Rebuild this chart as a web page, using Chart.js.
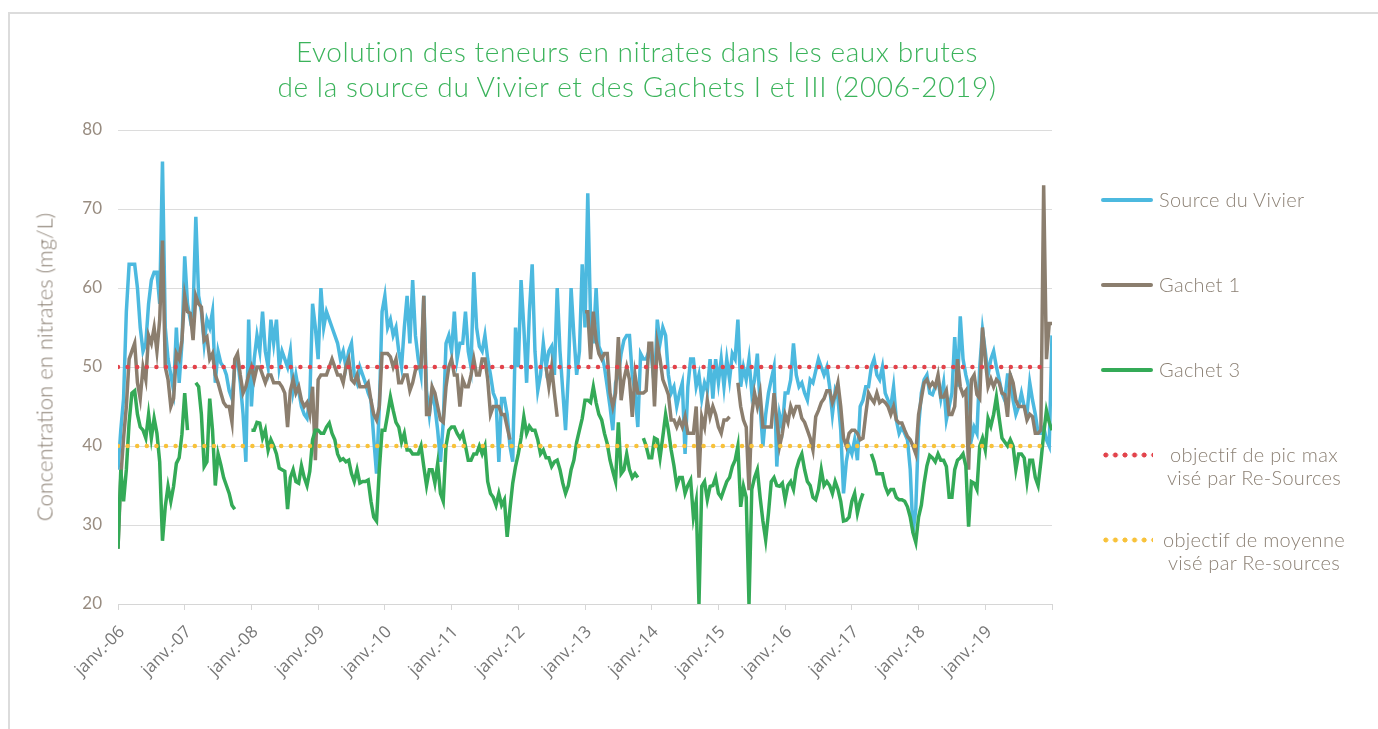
<!DOCTYPE html>
<html lang="fr">
<head>
<meta charset="utf-8">
<title>Evolution des teneurs en nitrates</title>
<script src="https://cdn.jsdelivr.net/npm/chart.js"></script>
<style>
    html, body {
        margin: 0;
        padding: 0;
        background: #fff;
        width: 1378px;
        height: 729px;
        overflow: hidden;
        font-family: Lato, "Open Sans", sans-serif;
    }
    .frame {
        position: absolute;
        left: 8px;
        top: 12px;
        width: 1400px;
        height: 740px;
        border-left: 2px solid #dcdcdc;
        border-top: 2px solid #dcdcdc;
    }
    #chart {
        position: absolute;
        left: 0;
        top: 0;
    }
    .chart-title {
        position: absolute;
        left: 0;
        top: 34px;
        width: 1274px;
        text-align: center;
        color: #3bb35b;
        font-size: 28px;
        font-weight: 300;
        letter-spacing: 0.6px;
        line-height: 35px;
    }
    .y-title {
        position: absolute;
        left: 44px;
        top: 367px;
        transform: translate(-50%, -50%) rotate(-90deg);
        white-space: nowrap;
        color: #8c8175;
        font-size: 22px;
        font-weight: 300;
    }
    .legend-item {
        position: absolute;
        left: 1101px;
        height: 0;
    }
    .legend-line {
        position: absolute;
        left: 0;
        top: -2px;
        width: 52px;
        height: 4px;
        border-radius: 2px;
    }
    .legend-dots {
        position: absolute;
        left: 0;
        top: -3px;
        width: 52px;
        height: 6px;
        background-size: 9.6px 6px;
        background-repeat: repeat-x;
    }
    .legend-text {
        position: absolute;
        left: 58px;
        top: -12px;
        white-space: nowrap;
        color: #8c8175;
        font-size: 20px;
        font-weight: 300;
        letter-spacing: 0.3px;
        line-height: 23px;
    }
    .legend-text.two-lines {
        left: 53px;
        width: 200px;
        text-align: center;
    }
</style>
</head>
<body>
<div class="frame"></div>
<canvas id="chart" width="1378" height="729"></canvas>
<div class="chart-title">Evolution des teneurs en nitrates dans les eaux brutes<br>de la source du Vivier et des Gachets I et III (2006-2019)</div>
<div class="y-title">Concentration en nitrates (mg/L)</div>
<div id="legend"></div>

<script>
// one value every half month, 24 per year, from janv. 2006 to janv. 2020
const startYear = 2006;
const pointsPerYear = 24;

const tickLabels = ['janv.-06', 'janv.-07', 'janv.-08', 'janv.-09', 'janv.-10', 'janv.-11', 'janv.-12',
    'janv.-13', 'janv.-14', 'janv.-15', 'janv.-16', 'janv.-17', 'janv.-18', 'janv.-19'];

const sourceVivier = [
    37, 42, 46, 57, 63, 63, 63, 60, 55, 52, 53, 58, 61, 62, 62, 58, 76, 55, 51, 49, 47, 55, 48, 53, // 2006
    64, 58, 56, 57, 69, 59, 57, 53, 56, 55, 57, 48, 52, 50.5, 50, 49, 47, 46, 50, 51, 48, 44, 38, 56, // 2007
    45, 51, 54, 52, 57, 52, 50, 56, 53, 56, 50, 52, 51, 50, 52, 47, 49, 47, 45, 44, 43.5, 46, 58, 55, // 2008
    51, 60, 55, 57, 56, 55, 54, 53, 51, 52, 50, 52, 53, 49, 48, 50, 49, 48, 46.7, 45.8, 41, 36.5, 45, 57, // 2009
    59, 55, 56, 54, 55, 52, 50, 55, 59, 53, 61, 54, 51, 49, 59, 47, 44, 47, 45, 42, 38, 43, 53, 54, // 2010
    52, 57, 51, 53, 53, 57, 52, 50, 62, 55, 52.6, 52, 54, 51, 49, 46.7, 45.8, 38, 46, 46, 44, 40, 38, 55, // 2011
    50, 61, 55, 48, 57, 63, 52, 47, 49, 53, 50, 52, 52.6, 49, 60, 52, 47, 42, 49, 60, 54, 49, 52, 63, // 2012
    55, 72, 56, 53, 60, 52.6, 51.7, 50, 47.5, 45, 42, 48, 49, 51.7, 53.4, 54, 54, 49, 46.7, 42.4, 51.7, 51, 51, 52, // 2013
    51, 47.5, 56, 53, 55, 54, 49, 46.7, 47.5, 45, 46.7, 48, 39, 47.5, 51, 51, 47.5, 49, 46, 48, 47, 51, 46, 51, // 2014
    48, 51, 47.5, 51, 48.4, 51.7, 51, 56, 47.5, 50, 48.4, 51, 46.7, 48.4, 51.7, 45, 40, 44, 46.7, 48.4, 50, 37.4, 44, 42.4, // 2015
    46.7, 46.7, 48.4, 53, 49, 47.5, 48, 46.7, 45.8, 48.4, 48, 49.5, 51, 50, 49, 50, 47.5, 44, 47, 46, 42, 34, 38, 40, // 2016
    39, 40.8, 38.2, 45, 45.8, 47.5, 47.5, 50, 51, 49, 48.4, 50, 46.7, 45.8, 45, 47.5, 43.3, 41.6, 42.4, 41.6, 40.8, 37, 29, 32, // 2017
    42.4, 46.7, 48.4, 49, 46.7, 46.5, 47.5, 48.4, 46, 48, 43.3, 45, 46.7, 53.8, 47.5, 56.4, 51, 49, 47.5, 40.8, 42.4, 41.6, 50, 54.7, // 2018
    52, 49, 51, 52, 50, 48.4, 46.7, 45.8, 49, 49, 45.8, 44, 45, 46.7, 45, 44, 48, 45.8, 44, 41.6, 41.6, 42.4, 40.8, 40, // 2019
    54
];

const gachet1 = [
    27, 36, 41, 45, 51, 52, 53, 48, 46, 50, 48.4, 54, 53, 55, 52, 56, 66, 50, 48.4, 45, 46, 51.7, 51, 53.4, // 2006
    59, 57, 56.8, 53.4, 59, 58, 57.6, 53.4, 53.8, 51, 51.7, 49, 48, 46.7, 45.5, 45, 45, 43, 51, 51.7, 49, 46.7, 47.5, 49, // 2007
    50, 48.4, 50, 50, 49, 48, 49, 49, 48, 48, 48, 47.5, 46.7, 42.4, 47, 48.4, 46.7, 47.5, 45.8, 45, 45.5, 44, 47.5, 38.2, // 2008
    48.4, 49, 49, 49, 50, 51, 50, 49, 49, 48, 50, 51, 48.4, 48, 49, 47.5, 47.5, 47.5, 48, 45.8, 44, 43.3, 45, 51.7, // 2009
    51.7, 51.7, 51.3, 50, 51, 48, 48, 49, 49, 47, 48, 49.6, 50, 50, 59, 44, 44, 47.5, 46.7, 45, 43.3, 43, 47.5, 50, // 2010
    51, 49, 49, 45, 48.4, 47.5, 47.5, 49, 51, 49, 49, 51, 51, 48.4, 44, 45, 45, 45, 44, 44, 42.4, 40.8, null, null, // 2011
    null, null, null, null, null, null, null, null, null, null, 50, 47.5, 50, 46.7, 43.7, null, null, null, null, null, null, null, null, null, // 2012
    57, 57, 51, 57, 53.4, 51.7, 51, 51.7, 51.7, 46.7, 45, 46.7, 53.8, 45.8, 48.4, 50, 48.4, 43.7, 49, 46.7, 46.7, 46.7, 47, 53, // 2013
    53, 45, 53, 51, 48.4, 47.5, 46.5, 43.3, 43.3, 42.4, 43.3, 42.4, 43.7, 41.6, 41.6, 41.6, 45, 36, 43.7, 42.4, 45.8, 43.7, 45, 44, // 2014
    42.4, 41.6, 43.3, 43.3, 43.7, null, null, 48, 45, 43.3, 42.4, 34.4, 44, 46.7, 45, 46.7, 42.4, 42.4, 42.4, 42.4, 46.7, 43.3, 40, 41.6, // 2015
    44, 43, 45, 44, 45, 45, 43.5, 43, 42, 41, 39.5, 43.7, 44.5, 45.5, 46, 47, 47, 45.5, 46.5, 48, 45, 41, 40, 41.6, // 2016
    42, 42, 41.6, 40.8, 41, 44, 46.7, 46, 45.5, 46.7, 45.5, 45.8, 45.5, 45, 44, 45, 43.3, 42.9, 42.9, 42, 41.2, 40.8, 40, 39, // 2017
    44, 46, 48, 48.4, 47.5, 48, 47.5, 49, 46.2, 46.2, 47, 44, 44, 45, 51, 47.5, 46.5, 47, 37, 48.4, 49, 46.5, 46, 55, // 2018
    51, 47.5, 48.5, 47.5, 48.4, 48, 46.7, 46.5, 43.7, 49, 48, 45.8, 45, 45, 45, 43.3, 44, 43.7, 41.6, 41.6, 42, 73, 51, 55.5, // 2019
    55.5
];

const gachet3 = [
    27, 37, 33, 37, 43, 46.7, 47, 44, 42.4, 42, 41, 44, 41, 43.5, 41.6, 38, 28, 32.3, 34.9, 33, 34.9, 37.8, 38.5, 41.5, // 2006
    46.7, 42, null, null, 48, 47.5, 44, 37.4, 38, 46, 42, 35, 39, 37.6, 36, 35, 34, 32.5, 32, null, null, null, null, null, // 2007
    42, 42, 43, 42.9, 41, 42, 39.5, 40.8, 40, 39, 37.2, 37, 36.8, 32, 36, 37, 35.5, 35.3, 37.5, 36, 35, 36.8, 40.8, 42, // 2008
    42, 41.6, 41.6, 42.4, 42.9, 41.6, 40.8, 39, 38.2, 38.4, 38, 38.2, 36.5, 35.5, 37, 35.3, 35.5, 35.5, 35.7, 33, 31, 30.5, 37, 42, // 2009
    42, 44, 46.2, 44.5, 43, 42.4, 40.5, 41.6, 39.5, 39.5, 39, 39, 39, 40, 37.4, 35, 37, 37, 35.3, 37.8, 34, 33, 40, 42, // 2010
    42.4, 42.4, 41.6, 41, 41.6, 40, 38.2, 38.2, 39, 39, 40, 39, 40, 35.5, 34, 33.5, 32.5, 34, 32.5, 33.2, 28.5, 32, 35.3, 37.4, // 2011
    39, 41, 43.7, 41.6, 42.5, 42, 42, 40.8, 39, 39.5, 38.5, 38.5, 37.4, 38, 38.2, 37, 35.3, 34, 35, 37, 38.2, 40.5, 42, 43.5, // 2012
    45.8, 45.8, 45.5, 47.5, 45.5, 44, 43.3, 41.6, 40.3, 38.2, 36.8, 35.5, 43, 36.5, 37, 39, 37, 36, 36.5, 36, null, 41, 40, 38.5, // 2013
    38.5, 41, 40.8, 38.5, 41.2, 44, 42, 39.5, 37.5, 35, 36, 36, 34, 35, 35.7, 31, 33, 20, 34.9, 35.5, 33.2, 34.9, 35, 36, // 2014
    34, 33.5, 34.5, 35.5, 36, 37.4, 38.2, 40, 32.3, 34.9, 33.5, 20, 34.5, 36, 37, 33.5, 30.5, 28.1, 31.5, 35.5, 36, 35, 34.9, 35.3, // 2015
    33.2, 35, 35.5, 34.5, 37, 38.2, 39, 37, 35.5, 35, 33.5, 33.2, 34.5, 37, 35, 35.5, 35, 34, 35.5, 34.5, 33, 30.5, 30.6, 31, // 2016
    33, 34, 31.5, 33, 34, null, null, 39, 38, 36.5, 36.5, 36.5, 34.9, 34, 34.5, 34.5, 33.5, 33.2, 33.2, 33, 32.3, 31, 29, 27.8, // 2017
    31, 32.5, 35.3, 37.5, 38.8, 38.5, 38, 39, 38.2, 38.2, 37.4, 33.5, 33.5, 37, 38.2, 38.5, 39, 37.5, 29.8, 35.5, 35.3, 34.5, 40, 41, // 2018
    39.5, 43.5, 42.5, 44, 46.2, 43.5, 41, 40.5, 40, 40.8, 40, 37, 39, 39, 38.5, 35.5, 38.2, 38.2, 36, 35, 38, 41.5, 44.5, 43, // 2019
    42
];

const objectifPicMax = 50;
const objectifMoyenne = 40;

const toPoints = values => values.map((v, i) => ({ x: startYear + i / pointsPerYear, y: v }));
const flatLine = value => [{ x: startYear, y: value }, { x: startYear + 13.9, y: value }];

const series = [
    { label: 'Source du Vivier', data: toPoints(sourceVivier), color: '#4cb9df', order: 5 },
    { label: 'Gachet 1', data: toPoints(gachet1), color: '#8b7e6e', order: 4 },
    { label: 'Gachet 3', data: toPoints(gachet3), color: '#34aa57', order: 3 },
];
const objectives = [
    { label: ['objectif de pic max', 'visé par Re-Sources'], data: flatLine(objectifPicMax), color: '#e2434b', order: 1 },
    { label: ['objectif de moyenne', 'visé par Re-sources'], data: flatLine(objectifMoyenne), color: '#f8c23a', order: 2 },
];

const datasets = series.map(s => ({
    label: s.label,
    data: s.data,
    borderColor: s.color,
    backgroundColor: s.color,
    borderWidth: 3.5,
    pointRadius: 0,
    tension: 0,
    spanGaps: false,
    order: s.order,
})).concat(objectives.map(o => ({
    label: o.label.join(' '),
    data: o.data,
    borderColor: o.color,
    borderWidth: 4.5,
    borderDash: [0, 9.6],
    borderCapStyle: 'round',
    pointRadius: 0,
    order: o.order,
})));

new Chart(document.getElementById('chart'), {
    type: 'line',
    data: { datasets: datasets },
    options: {
        responsive: false,
        animation: false,
        devicePixelRatio: 1,
        layout: { padding: { top: 130, right: 326, left: 0, bottom: 0 } },
        plugins: {
            legend: { display: false },
            tooltip: { enabled: false },
        },
        scales: {
            x: {
                type: 'linear',
                min: 2006,
                max: 2020,
                afterFit: scale => { scale.height = 125; },
                grid: { drawOnChartArea: false, color: '#d6d6d6', tickLength: 6 },
                border: { color: '#d6d6d6' },
                ticks: {
                    stepSize: 1,
                    autoSkip: false,
                    minRotation: 45,
                    maxRotation: 45,
                    padding: 12,
                    labelOffset: 4,
                    color: '#777',
                    font: { family: 'Open Sans', size: 17 },
                    callback: value => tickLabels[Math.round(value) - startYear] || '',
                },
            },
            y: {
                min: 20,
                max: 80,
                afterFit: scale => { scale.width = 118; },
                grid: { color: '#dcdcdc', drawTicks: false },
                border: { display: false },
                ticks: {
                    stepSize: 10,
                    padding: 16,
                    color: '#988c80',
                    font: { family: 'Lato', size: 17 },
                },
            },
        },
    },
});

// side legend, built in HTML next to the chart
const legendRows = [
    { y: 200, kind: 'line', color: series[0].color, text: [series[0].label] },
    { y: 285, kind: 'line', color: series[1].color, text: [series[1].label] },
    { y: 370, kind: 'line', color: series[2].color, text: [series[2].label] },
    { y: 455, kind: 'dots', color: objectives[0].color, text: objectives[0].label },
    { y: 540, kind: 'dots', color: objectives[1].color, text: objectives[1].label },
];
const legend = document.getElementById('legend');
legendRows.forEach(row => {
    const item = document.createElement('div');
    item.className = 'legend-item';
    item.style.top = row.y + 'px';
    const sample = document.createElement('div');
    if (row.kind === 'line') {
        sample.className = 'legend-line';
        sample.style.background = row.color;
    } else {
        sample.className = 'legend-dots';
        sample.style.backgroundImage = `radial-gradient(circle, ${row.color} 2.2px, transparent 2.8px)`;
    }
    const text = document.createElement('div');
    text.className = 'legend-text' + (row.text.length > 1 ? ' two-lines' : '');
    text.innerHTML = row.text.join('<br>');
    item.appendChild(sample);
    item.appendChild(text);
    legend.appendChild(item);
});
</script>
</body>
</html>
